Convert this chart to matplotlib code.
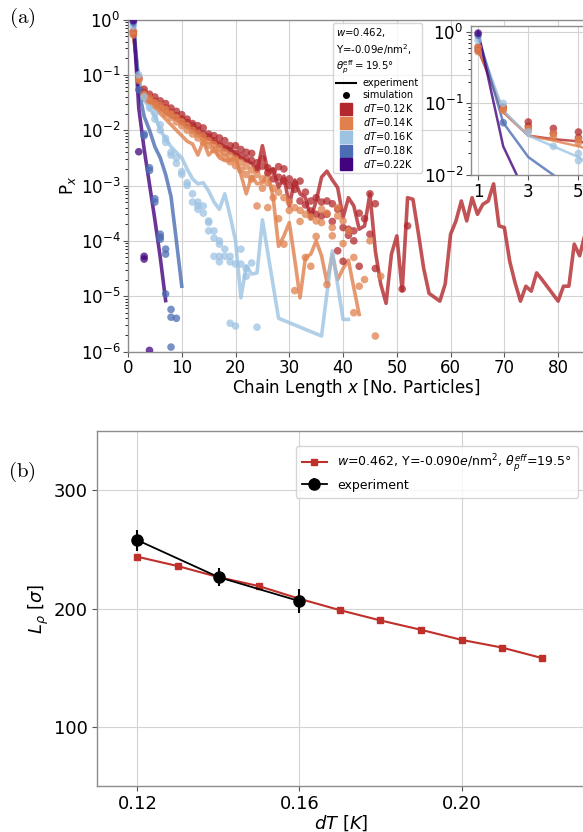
import numpy as np
import matplotlib.pyplot as plt
from matplotlib.lines import Line2D

plt.rcParams['font.family'] = 'DejaVu Sans'
plt.rcParams['mathtext.fontset'] = 'dejavusans'

# ---- chain length distributions, values are log10(P_x) ----
dT_labels = ['0.12', '0.14', '0.16', '0.18', '0.22']
colors = ['#b2282c', '#e0804c', '#9dc3e3', '#4c6db3', '#43037f']

exp_x_012 = list(range(1, 86))
exp_lp_012 = [-0.25, -1.12, -1.45, -1.50, -1.53, -1.60, -1.68, -1.75, -1.80, -1.87,
              -1.93, -1.98, -2.05, -2.10, -2.15, -2.20, -2.25, -2.30, -2.35, -2.42,
              -2.50, -2.55, -2.60, -2.74, -2.28, -2.74, -2.70, -3.04, -2.83, -3.37,
              -2.90, -3.15, -3.22, -3.60, -3.28, -2.85, -2.74, -2.90, -3.04, -3.58,
              -3.22, -3.37, -3.79, -3.73, -3.15, -4.18, -4.78, -5.13, -4.24, -3.91,
              -4.90, -3.22, -3.25, -3.86, -4.50, -4.95, -5.02, -5.09, -4.78, -3.88,
              -3.64, -3.28, -3.64, -3.22, -3.52, -3.34, -3.28, -2.97, -3.73, -3.76,
              -4.37, -4.76, -5.09, -4.82, -4.91, -4.58, -4.70, -4.83, -4.96, -5.09,
              -4.82, -4.82, -4.06, -4.27, -3.88]

exp_x_014 = list(range(1, 44))
exp_lp_014 = [-0.22, -1.12, -1.45, -1.52, -1.60, -1.70, -1.80, -1.90, -2.00, -2.10,
              -2.20, -2.25, -2.45, -2.20, -2.45, -2.35, -2.50, -2.55, -2.55, -2.50,
              -2.80, -3.15, -2.83, -2.97, -2.95, -2.77, -3.22, -4.10, -3.91, -3.67,
              -4.33, -5.03, -4.30, -4.24, -4.00, -4.27, -4.75, -4.25, -4.70, -4.50,
              -4.35, -4.85, -5.33]

exp_x_016 = [1, 2, 3, 4, 5, 6, 7, 8, 9, 10, 11, 12, 13, 14, 15, 16, 17, 18, 19, 20,
             21, 22, 23, 24, 25, 28, 36, 38, 40, 41]
exp_lp_016 = [-0.12, -1.10, -1.45, -1.60, -1.75, -2.00, -2.15, -2.30, -2.40, -2.50,
              -2.70, -2.88, -2.97, -2.95, -3.10, -3.30, -3.43, -3.15, -3.55, -4.00,
              -5.03, -4.45, -4.60, -4.58, -3.62, -5.40, -5.72, -4.18, -5.42, -5.42]

exp_x_018 = [1, 2, 3, 4, 5, 6, 7, 8, 9, 10]
exp_lp_018 = [-0.05, -1.27, -1.75, -2.00, -2.30, -2.50, -2.80, -3.20, -4.00, -4.82]

exp_x_022 = [1, 2, 3, 4, 5, 6, 7]
exp_lp_022 = [0.0, -1.60, -2.34, -2.98, -3.62, -4.30, -5.08]

sim_x_012 = [1, 1, 2, 2, 3, 3, 4, 4, 5, 5, 6, 6, 7, 7, 8, 8, 9, 9, 10, 10,
             11, 11, 12, 12, 13, 13, 14, 14, 15, 15, 16, 16, 17, 17, 18, 18, 19, 19, 20, 20,
             21, 21, 22, 22, 23, 23, 24, 24, 25, 25, 26, 26, 27, 27, 28, 28, 29, 29, 30, 30,
             31, 31, 32, 32, 33, 33, 34, 34, 35, 35, 36, 36, 37, 37, 38, 38, 39, 39, 40, 40,
             41, 41, 42, 42, 43, 43, 44, 45, 45, 46, 46, 51, 52]
sim_lp_012 = [-0.26, -0.22, -1.05, -1.07, -1.26, -1.32, -1.35, -1.42, -1.40, -1.48,
              -1.47, -1.55, -1.52, -1.60, -1.60, -1.68, -1.66, -1.74, -1.72, -1.80,
              -1.80, -1.86, -1.88, -1.92, -1.92, -2.00, -1.96, -2.07, -2.07, -2.12,
              -2.10, -2.19, -2.14, -2.26, -2.19, -2.32, -2.28, -2.37, -2.28, -2.42,
              -2.35, -2.47, -2.40, -2.52, -2.42, -2.55, -2.59, -2.70, -2.52, -2.65,
              -2.68, -2.77, -2.74, -2.88, -2.66, -2.85, -2.70, -2.92, -2.88, -3.00,
              -2.97, -3.07, -2.92, -3.28, -3.12, -3.35, -3.28, -3.46, -3.22, -3.52,
              -3.30, -3.55, -3.28, -3.52, -3.33, -3.65, -3.43, -4.18, -3.76, -4.37,
              -3.79, -3.90, -3.82, -4.00, -3.50, -4.46, -3.60, -3.15, -3.88, -3.33,
              -4.50, -4.87, -3.73]

sim_x_014 = [1, 1, 2, 2, 3, 3, 4, 4, 5, 5, 6, 6, 7, 7, 8, 8, 9, 9, 10, 10,
             11, 11, 12, 12, 13, 13, 14, 14, 15, 15, 16, 16, 17, 17, 18, 18, 19, 19, 20, 20,
             21, 21, 22, 22, 23, 23, 24, 24, 25, 25, 26, 26, 27, 27, 28, 28, 29, 29, 30, 30,
             31, 31, 32, 32, 33, 33, 34, 34, 35, 35, 36, 36, 37, 37, 38, 38, 39, 39, 40, 40,
             41, 42, 42, 43, 44, 45, 46, 47]
sim_lp_014 = [-0.21, -0.28, -1.07, -1.10, -1.35, -1.38, -1.42, -1.47, -1.50, -1.55,
              -1.55, -1.62, -1.62, -1.70, -1.70, -1.77, -1.77, -1.85, -1.85, -1.92,
              -1.92, -2.00, -2.00, -2.07, -2.07, -2.14, -2.12, -2.21, -2.19, -2.28,
              -2.26, -2.35, -2.32, -2.42, -2.40, -2.49, -2.46, -2.57, -2.52, -2.64,
              -2.58, -2.72, -2.65, -2.80, -2.72, -2.88, -2.80, -3.37, -2.88, -3.05,
              -2.95, -3.40, -3.05, -3.22, -3.12, -3.60, -3.22, -4.06, -3.30, -3.45,
              -3.40, -4.90, -3.45, -3.65, -3.52, -4.30, -3.57, -4.46, -3.64, -3.92,
              -3.43, -3.67, -3.50, -4.79, -3.76, -3.91, -3.40, -3.55, -3.64, -4.05,
              -3.82, -5.30, -4.30, -4.82, -4.70, -4.00, -5.72, -4.64]

sim_x_016 = [1, 2, 3, 4, 5, 5, 6, 6, 7, 7, 8, 8, 9, 9, 10, 10, 11, 11, 12, 12,
             13, 13, 13, 14, 14, 15, 15, 15, 16, 16, 16, 17, 17, 17, 17, 18, 18,
             19, 19, 19, 20, 20, 21, 21, 22, 22, 23, 24]
sim_lp_016 = [-0.12, -1.00, -1.40, -1.60, -1.80, -1.70, -1.90, -2.00, -2.15, -2.22,
              -2.40, -2.45, -2.50, -2.60, -2.75, -2.80, -2.95, -3.00, -3.15, -3.30,
              -3.30, -3.37, -3.43, -3.37, -3.50, -3.64, -3.67, -3.82, -3.82, -3.95,
              -4.28, -4.00, -4.06, -4.28, -4.38, -4.15, -4.28, -4.28, -4.38, -5.49,
              -4.42, -5.54, -4.15, -4.42, -4.50, -4.64, -4.40, -5.56]

sim_x_018 = [1, 2, 3, 3, 4, 4, 5, 5, 6, 6, 6, 7, 7, 7, 8, 8, 8, 9]
sim_lp_018 = [-0.05, -1.27, -2.07, -2.10, -2.68, -2.73, -3.24, -3.30, -3.88, -3.93,
              -3.97, -4.15, -4.24, -4.96, -5.24, -5.38, -5.92, -5.40]

sim_x_022 = [1, 2, 3, 3, 4]
sim_lp_022 = [-0.02, -2.39, -4.28, -4.33, -5.98]

exp_x = [exp_x_012, exp_x_014, exp_x_016, exp_x_018, exp_x_022]
exp_lp = [exp_lp_012, exp_lp_014, exp_lp_016, exp_lp_018, exp_lp_022]
sim_x = [sim_x_012, sim_x_014, sim_x_016, sim_x_018, sim_x_022]
sim_lp = [sim_lp_012, sim_lp_014, sim_lp_016, sim_lp_018, sim_lp_022]

# ---- persistence length vs dT ----
dT_sim = [0.12, 0.13, 0.14, 0.15, 0.16, 0.17, 0.18, 0.19, 0.20, 0.21, 0.22]
Lp_sim = [243.7, 235.8, 226.5, 218.9, 208.2, 198.6, 189.9, 182.0, 173.5, 167.0, 158.0]
dT_exp = [0.12, 0.14, 0.16]
Lp_exp = [257.7, 226.5, 206.2]
Lp_err = [8.7, 7.7, 10.4]

W, H = 583, 832
fig = plt.figure(figsize=(W / 100, H / 100), dpi=100)


def add_axes_px(left, top, right, bottom):
    return fig.add_axes([left / W, 1 - bottom / H, (right - left) / W, (bottom - top) / H])


def style(a):
    a.grid(True, color='#d3d3d3', lw=0.8)
    a.set_axisbelow(True)
    for s in a.spines.values():
        s.set_color('#8c8c8c')
        s.set_linewidth(1.0)
    a.tick_params(colors='#555555', labelcolor='black')


def draw_distributions(a, lw, ms):
    for xs, lps, sx, slp, c in zip(exp_x, exp_lp, sim_x, sim_lp, colors):
        a.plot(xs, 10 ** np.array(lps), color=c, lw=lw, alpha=0.8)
        a.scatter(sx, 10 ** np.array(slp), s=ms, color=c, alpha=0.75,
                  edgecolors='none', zorder=3)


# (a) main panel
ax = add_axes_px(128, 19.5, 585, 351.5)
style(ax)
ax.set_yscale('log')
draw_distributions(ax, 2.6, 30)
ax.set_xlim(0, 85)
ax.set_ylim(1e-6, 1)
ax.set_xticks([0, 10, 20, 30, 40, 50, 60, 70, 80])
ax.tick_params(axis='both', labelsize=12, pad=2)
ax.set_xlabel('Chain Length $x$ [No. Particles]', fontsize=12, labelpad=0)
ax.set_ylabel('P$_x$', fontsize=12, labelpad=2)

handles = [Line2D([], [], color='k', lw=1.5, label='experiment'),
           Line2D([], [], color='k', marker='o', ls='', ms=4, label='simulation')]
for c, t in zip(colors, dT_labels):
    handles.append(Line2D([], [], color=c, marker='s', ls='', ms=8,
                          label='$dT$=' + t + 'K'))
leg = ax.legend(handles=handles,
                title='$w$=0.462,\nY=-0.09$e$/nm$^2$,\n$\\theta_p^{\\rm eff}=19.5°$',
                loc='upper left', bbox_to_anchor=(333 / W, 1 - 23 / H),
                bbox_transform=fig.transFigure, borderaxespad=0,
                fontsize=7, title_fontsize=7.3,
                alignment='left', handlelength=2.0, borderpad=0.35,
                labelspacing=0.2, handletextpad=0.7)

# inset with the first few chain lengths
axin = add_axes_px(470.6, 26, 586, 175)
style(axin)
axin.set_yscale('log')
draw_distributions(axin, 1.8, 30)
axin.set_xlim(0.7, 5.3)
axin.set_ylim(0.01, 1.2)
axin.set_xticks([1, 3, 5])
axin.tick_params(axis='both', labelsize=12, pad=2)

# (b) persistence length
bx = add_axes_px(97, 431, 586, 786)
style(bx)
bx.plot(dT_sim, Lp_sim, 's-', color='#c0302b', ms=5, lw=1.5,
        label='$w$=0.462, Y=-0.090$e$/nm$^2$, $\\theta_p^{eff}$=19.5°')
bx.errorbar(dT_exp, Lp_exp, yerr=Lp_err, fmt='o-', color='k', ms=8, lw=1.3,
            elinewidth=1.5, label='experiment')
bx.set_xlim(0.11, 0.11 + (586 - 97) / 4050)
bx.set_ylim(50, 350)
bx.set_xticks([0.12, 0.16, 0.20])
bx.set_xticklabels(['0.12', '0.16', '0.20'])
bx.set_yticks([100, 200, 300])
bx.tick_params(axis='both', labelsize=13, pad=3)
bx.set_xlabel('$dT$ [$K$]', fontsize=13, labelpad=0)
bx.set_ylabel('$L_\\rho$ [$\\sigma$]', fontsize=13, labelpad=2)
bx.legend(loc='upper right', bbox_to_anchor=(578 / W, 1 - 446 / H),
          bbox_transform=fig.transFigure, borderaxespad=0,
          fontsize=9, borderpad=0.5, handlelength=2.0, labelspacing=0.4)

fig.text(22 / W, 1 - 18 / H, '$\\mathrm{(a)}$', math_fontfamily='cm', fontsize=15,
         ha='center', va='center')
fig.text(22 / W, 1 - 472 / H, '$\\mathrm{(b)}$', math_fontfamily='cm', fontsize=15,
         ha='center', va='center')

fig.savefig('out.png', dpi=100)
